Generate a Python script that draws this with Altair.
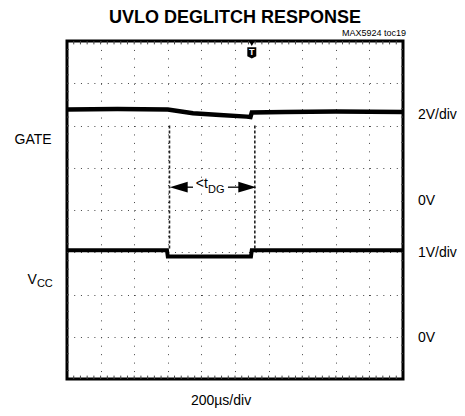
import altair as alt
import pandas as pd

# ---- data (time in µs, vertical position in scope divisions, 0 = bottom edge) ----
gate_time = [0, 300, 600, 750, 910, 1070, 1092, 1100, 1300, 1600, 2000]
gate_div = [6.38, 6.39, 6.38, 6.29, 6.25, 6.21, 6.20, 6.31, 6.32, 6.33, 6.32]

vcc_time = [0, 595, 600, 1095, 1100, 2000]
vcc_div = [3.05, 3.05, 2.90, 2.90, 3.05, 3.05]

marker_time = [610, 1118]          # dashed cursor lines
marker_top = 6.0
marker_bottom = 3.05

arrow_y = 4.54
arrow_left_tip = 625
arrow_right_tip = 1113

x_major = [200, 400, 600, 800, 1000, 1200, 1400, 1600, 1800]
y_major = [1, 2, 3, 4, 5, 6, 7]

right_labels = ["2V/div", "0V", "1V/div", "0V"]
right_label_y = [6.25, 4.21, 2.98, 0.97]

FONT = "Liberation Sans, Arial, Helvetica, sans-serif"

xs = alt.Scale(domain=[0, 2000], nice=False, zero=False)
ys = alt.Scale(domain=[0, 8], nice=False, zero=False)

x_axis = alt.Axis(values=x_major, grid=True, gridDash=[1, 7.45], gridColor="#444",
                  gridWidth=1, labels=False, ticks=False, domain=False, title=None)
y_axis = alt.Axis(values=y_major, grid=True, gridDash=[1, 5.72], gridColor="#444",
                  gridWidth=1, labels=False, ticks=False, domain=False, title=None)


def X(f="x"):
    return alt.X(f"{f}:Q", scale=xs, axis=x_axis)


def Y(f="y"):
    return alt.Y(f"{f}:Q", scale=ys, axis=y_axis)


def label(x, y, t, size=14, align="center", baseline="middle", weight="normal", color="black"):
    return alt.Chart(pd.DataFrame({"x": x, "y": y, "t": t})).mark_text(
        font=FONT, fontSize=size, align=align, baseline=baseline, fontWeight=weight,
        color=color).encode(x=X(), y=Y(), text="t:N")


# traces
gate_df = pd.DataFrame({"x": gate_time, "y": gate_div})
vcc_df = pd.DataFrame({"x": vcc_time, "y": vcc_div})
gate = alt.Chart(gate_df).mark_line(color="black", strokeWidth=4.5).encode(x=X(), y=Y())
vcc = alt.Chart(vcc_df).mark_line(color="black", strokeWidth=4).encode(x=X(), y=Y())

# edge minor ticks
minor_x = [i * 40 for i in range(1, 50)]
minor_y = [i * 0.2 for i in range(1, 40)]
edge_rows = []
for t in minor_x:
    edge_rows.append({"x": t, "x2": t, "y": 0, "y2": 0.08})
    edge_rows.append({"x": t, "x2": t, "y": 8, "y2": 7.92})
for d in minor_y:
    edge_rows.append({"x": 0, "x2": 12, "y": d, "y2": d})
    edge_rows.append({"x": 2000, "x2": 1988, "y": d, "y2": d})
edges = alt.Chart(pd.DataFrame(edge_rows)).mark_rule(color="#444", strokeWidth=1).encode(
    x=X(), x2="x2:Q", y=Y(), y2="y2:Q")

# dashed cursor lines
cur_df = pd.DataFrame({"x": marker_time, "y": [marker_top] * 2, "y2": [marker_bottom] * 2})
cursors = alt.Chart(cur_df).mark_rule(color="#222", strokeWidth=1.6, strokeDash=[3, 2]).encode(
    x=X(), y=Y(), y2="y2:Q")

# arrow shafts
shaft_df = pd.DataFrame({"x": [arrow_left_tip + 20, 958], "x2": [750, arrow_right_tip - 20],
                         "y": [arrow_y, arrow_y]})
shafts = alt.Chart(shaft_df).mark_rule(color="black", strokeWidth=1.3).encode(
    x=X(), x2="x2:Q", y=Y())

heads_l = alt.Chart(pd.DataFrame({"x": [arrow_left_tip + 40], "y": [arrow_y]})).mark_point(
    shape="M-1,0L1,-0.6L1,0.6Z", filled=True, color="black", size=320, opacity=1).encode(x=X(), y=Y())
heads_r = alt.Chart(pd.DataFrame({"x": [arrow_right_tip - 40], "y": [arrow_y]})).mark_point(
    shape="M1,0L-1,-0.6L-1,0.6Z", filled=True, color="black", size=320, opacity=1).encode(x=X(), y=Y())

tdg1 = label([839], [4.62], ["<t"], size=14, align="right")
tdg2 = label([839], [4.47], ["DG"], size=11, align="left")

# trigger marker
trig_badge = alt.Chart(pd.DataFrame({"x": [1100], "y": [7.72]})).mark_point(
    shape="M-0.8,-1L0.8,-1L0.8,0.6L0,1L-0.8,0.6Z", filled=True, color="black", size=126,
    opacity=1).encode(x=X(), y=Y())
trig_t = label([1100], [7.74], ["T"], size=9, weight="bold", color="white")
trig_tri = alt.Chart(pd.DataFrame({"x": [1100], "y": [7.93]})).mark_point(
    shape="triangle-down", filled=True, color="black", size=22, opacity=1).encode(x=X(), y=Y())

# labels
rl = label([2089] * 4, right_label_y, right_labels, size=14, align="left")
gate_lbl = label([-202], [5.66], ["GATE"], size=14)
v_lbl = label([-179], [2.34], ["V"], size=14, align="right")
cc_lbl = label([-179], [2.24], ["CC"], size=11, align="left")
xlab = label([917], [-0.615], ["200µs/div"], size=14, baseline="alphabetic")
title = label([1000], [8.43], ["UVLO DEGLITCH RESPONSE"], size=18, weight="bold",
              baseline="alphabetic")
toc = label([2018], [8.19], ["MAX5924 toc19"], size=9, align="right")

chart = alt.layer(
    edges, cursors, gate, vcc, shafts, heads_l, heads_r, tdg1, tdg2,
    trig_badge, trig_t, trig_tri, rl, gate_lbl, v_lbl, cc_lbl, xlab, title, toc
).properties(
    width=336, height=338, autosize="none",
    padding={"left": 59, "top": 33, "right": 54, "bottom": 29},
    background="white",
).configure_view(stroke="black", strokeWidth=3)

chart.save("out.html", embed_options={"renderer": "svg", "actions": False})
